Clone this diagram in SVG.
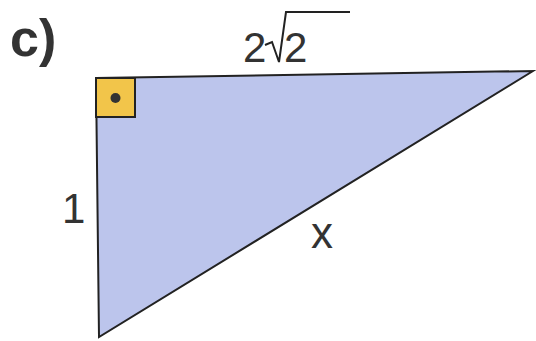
<svg xmlns="http://www.w3.org/2000/svg" width="536" height="341" viewBox="0 0 536 341">
<style>
.lbl{font-family:"Liberation Sans",Arial,sans-serif;fill:#333;}
.edge{stroke:#222;stroke-width:2;fill:none;}
</style>
<rect width="536" height="341" fill="#fff"/>
<text class="lbl" x="10" y="56" font-size="52" font-weight="bold" fill="#444">c)</text>
<g id="triangle">
<polygon points="96,78 533,71 99,337" fill="#bcc5ec" stroke="#222" stroke-width="2" stroke-linejoin="miter"/>
</g>
<g id="right-angle">
<rect x="96" y="78" width="39" height="39" fill="#f2c54a" stroke="#222" stroke-width="2"/>
<circle cx="115.5" cy="98" r="5" fill="#333"/>
</g>
<g id="labels">
<text class="lbl" x="243" y="62" font-size="42">2</text>
<path class="edge" d="M265,45 L272,42 L279,62 L286,12 L350,12" stroke="#333" stroke-width="1.8"/>
<text class="lbl" x="284" y="62" font-size="42">2</text>
<text class="lbl" x="62" y="223" font-size="42">1</text>
<text class="lbl" x="311" y="248" font-size="44">x</text>
</g>
</svg>
